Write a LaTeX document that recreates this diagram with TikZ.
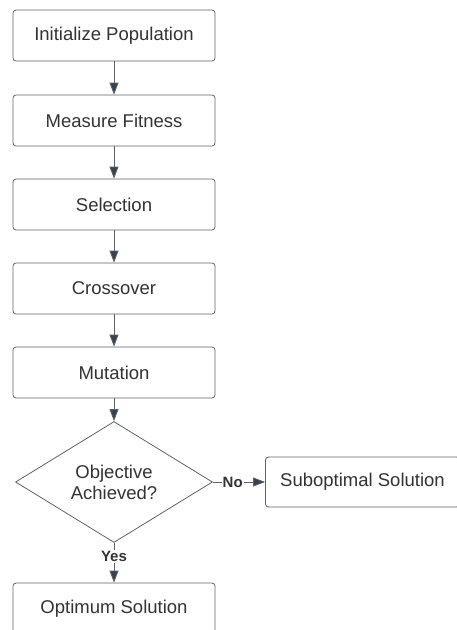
\documentclass[tikz,border=0pt]{standalone}
\usepackage{fontspec}
\setmainfont{Liberation Sans}
\usetikzlibrary{shapes.geometric,arrows.meta}
\definecolor{edgegray}{HTML}{5E636B}
\definecolor{tipgray}{HTML}{3B414A}
\definecolor{txtgray}{HTML}{333333}

\begin{document}
\begin{tikzpicture}[x=1pt,y=-1pt]
    \tikzset{
    proc/.style={rectangle,rounded corners=3pt,draw=edgegray,line width=0.8pt,
        minimum width=202pt,minimum height=51pt,inner sep=0pt,
        text=txtgray,font=\fontsize{18.5}{21}\selectfont},
    cond/.style={diamond,draw=edgegray,line width=0.8pt,minimum width=197pt,
        minimum height=98pt,inner sep=0pt,align=center,text=txtgray,
        font=\fontsize{18.5}{21}\selectfont},
    flow/.style={draw=edgegray,line width=0.8pt,
        -{Triangle[length=12pt,width=9pt,fill=tipgray]}},
    lbl/.style={fill=white,inner sep=1pt,text=txtgray,
        font=\fontsize{15}{17}\bfseries\selectfont},
    }
    \useasboundingbox (0,0) rectangle (457,630);
    \begin{scope}
    \clip (0,0) rectangle (457,630);
    \node[proc] (init) at (114,35.5) {Initialize Population};
    \node[proc] (fit) at (114,120.5) {Measure Fitness};
    \node[proc] (sel) at (114,204.5) {Selection};
    \node[proc] (cross) at (114,288.5) {Crossover};
    \node[proc] (mut) at (114,372.5) {Mutation};
    \node[cond] (obj) at (114,482) {Objective\\Achieved?};
    \node[proc,minimum width=194pt,minimum height=50pt] (subopt) at (362.5,482) {Suboptimal Solution};
    \node[proc] (opt) at (114,608.5) {Optimum Solution};

    \draw[flow] (init) -- (fit);
    \draw[flow] (fit) -- (sel);
    \draw[flow] (sel) -- (cross);
    \draw[flow] (cross) -- (mut);
    \draw[flow] (mut) -- (obj);
    \draw[flow] (obj) -- node[lbl,pos=0.38] {No} (subopt);
    \draw[flow] (obj) -- node[lbl,pos=0.34] {Yes} (opt);
    \end{scope}

\end{tikzpicture}
\end{document}
